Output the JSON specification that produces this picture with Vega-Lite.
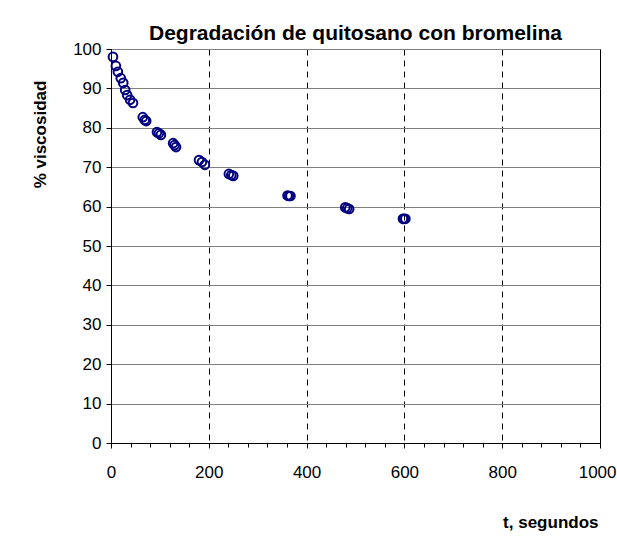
{
  "$schema": "https://vega.github.io/schema/vega-lite/v6.json",
  "autosize": {"type": "none"},
  "padding": {"left": 111, "top": 49, "right": 17, "bottom": 105},
  "width": 489,
  "height": 394,
  "background": "white",
  "config": {
    "font": "Liberation Sans",
    "view": {"stroke": "black", "strokeWidth": 1}
  },
  "title": {
    "text": "Degradación de quitosano con bromelina",
    "font": "Liberation Sans",
    "fontSize": 21,
    "fontWeight": "bold",
    "color": "black",
    "anchor": "middle",
    "dx": 0,
    "offset": -4
  },
  "data": {
    "values": [
      {"t": 4, "v": 98.0},
      {"t": 10, "v": 95.7},
      {"t": 14, "v": 94.2},
      {"t": 20, "v": 92.6},
      {"t": 25, "v": 91.4},
      {"t": 29, "v": 89.6},
      {"t": 33, "v": 88.3},
      {"t": 39, "v": 87.1},
      {"t": 45, "v": 86.3},
      {"t": 65, "v": 82.7},
      {"t": 69, "v": 82.0},
      {"t": 72, "v": 81.7},
      {"t": 94, "v": 78.9},
      {"t": 98, "v": 78.6},
      {"t": 102, "v": 78.2},
      {"t": 127, "v": 76.1},
      {"t": 130, "v": 75.6},
      {"t": 133, "v": 75.1},
      {"t": 180, "v": 71.8},
      {"t": 186, "v": 71.3},
      {"t": 192, "v": 70.6},
      {"t": 241, "v": 68.3},
      {"t": 246, "v": 68.0},
      {"t": 250, "v": 67.8},
      {"t": 361, "v": 62.8},
      {"t": 364, "v": 62.7},
      {"t": 367, "v": 62.7},
      {"t": 479, "v": 59.8},
      {"t": 483, "v": 59.6},
      {"t": 487, "v": 59.4},
      {"t": 597, "v": 56.9},
      {"t": 599, "v": 56.9},
      {"t": 602, "v": 56.9}
    ]
  },
  "layer": [
    {
      "mark": {"type": "point", "shape": "circle", "filled": false, "stroke": "#000080", "strokeWidth": 2, "size": 75, "opacity": 1},
      "encoding": {
        "x": {
          "field": "t", "type": "quantitative",
          "scale": {"domain": [0, 1000], "nice": false},
          "axis": {
            "values": [0, 200, 400, 600, 800, 1000], "format": "d", "labelFlush": false,
            "labelAlign": {"expr": "datum.value == 1000 ? 'right' : 'center'"},
            "labelOffset": {"expr": "datum.value == 1000 ? 16 : 0"},
            "grid": true, "gridColor": "black", "gridDash": [6, 5], "gridWidth": 1,
            "domainColor": "black", "tickColor": "black", "tickSize": 5,
            "labelFont": "Liberation Sans", "labelFontSize": 17, "labelColor": "black", "labelPadding": 16,
            "title": "t, segundos", "titleFont": "Liberation Sans", "titleFontSize": 17, "titleFontWeight": "bold", "titleColor": "black",
            "titleAnchor": "end", "titleAlign": "right", "titleX": 487, "titleY": 84, "titleBaseline": "alphabetic"
          }
        },
        "y": {
          "field": "v", "type": "quantitative",
          "scale": {"domain": [0, 100], "nice": false},
          "axis": {
            "values": [0, 10, 20, 30, 40, 50, 60, 70, 80, 90, 100],
            "grid": true, "gridColor": "#808080", "gridWidth": 1,
            "domainColor": "black", "tickColor": "black", "tickSize": 5,
            "labelFont": "Liberation Sans", "labelFontSize": 17, "labelColor": "black", "labelPadding": 5,
            "title": "% viscosidad", "titleFont": "Liberation Sans", "titleFontSize": 17, "titleFontWeight": "bold", "titleColor": "black",
            "titleX": -71, "titleY": 85, "titleAngle": -90, "titleBaseline": "middle", "titleAlign": "center"
          }
        }
      }
    },
    {
      "mark": {"type": "point", "opacity": 0},
      "encoding": {
        "x": {
          "field": "t", "type": "quantitative",
          "axis": {
            "orient": "bottom",
            "values": [40, 80, 120, 160, 240, 280, 320, 360, 440, 480, 520, 560, 640, 680, 720, 760, 840, 880, 920, 960],
            "labels": false, "grid": false, "domain": false, "title": null,
            "tickColor": "black", "tickSize": 4
          }
        },
        "y": {"field": "v", "type": "quantitative", "axis": null}
      }
    }
  ],
  "resolve": {"axis": {"x": "independent", "y": "independent"}}
}
